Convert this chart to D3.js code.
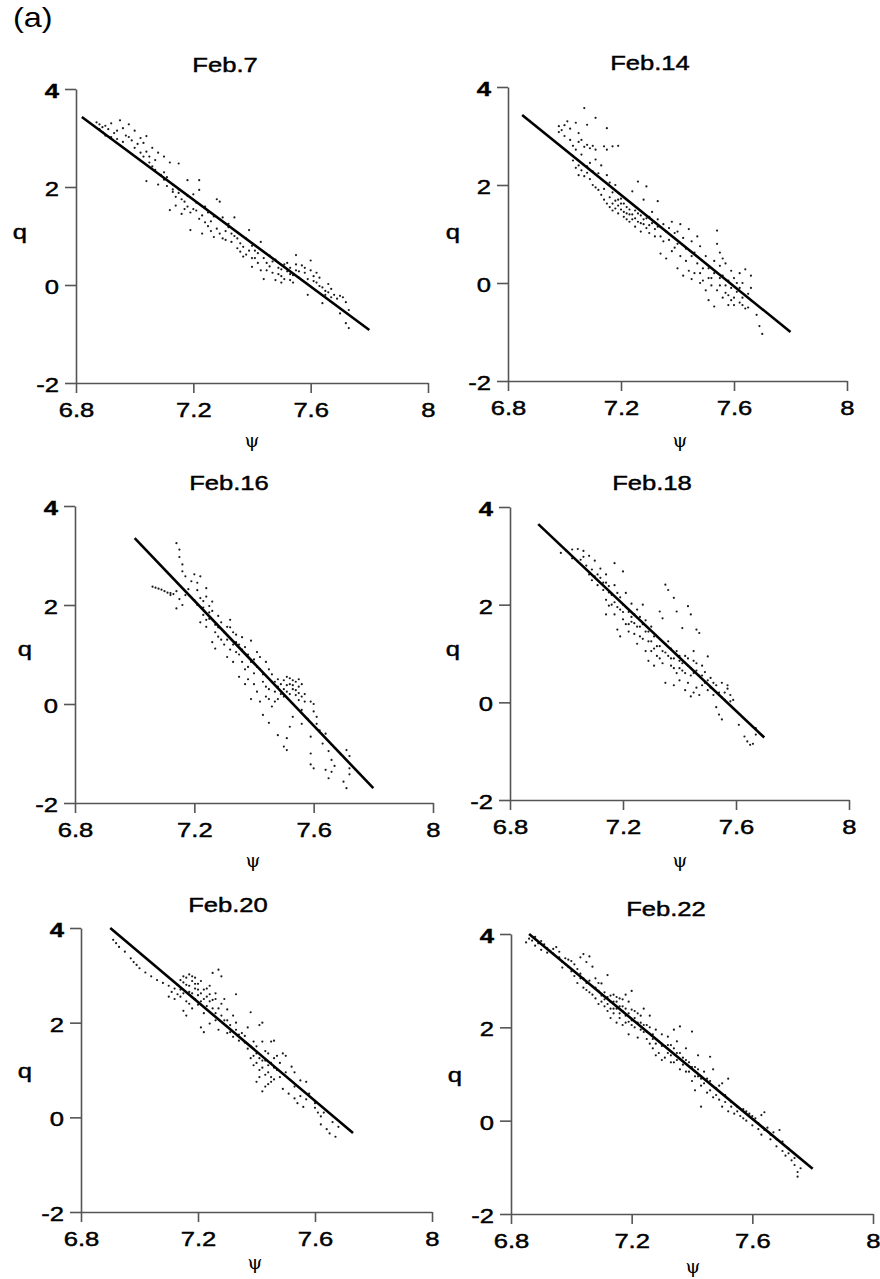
<!DOCTYPE html>
<html>
<head>
<meta charset="utf-8">
<script src="https://d3js.org/d3.v7.min.js"></script>
<title>q versus psi, Feb.7 - Feb.22</title>
<style>
  body { margin: 0; background: #fff; }
  svg text { font-family: "Liberation Sans", Arial, sans-serif; fill: #000; }
</style>
</head>
<body>
<div id="chart"></div>
<script type="text/javascript">

// tick labels
var psiTicks = [6.8, 7.2, 7.6, 8];
var qTicks = [-2, 0, 2, 4];

var panelTitles = ["Feb.7", "Feb.14", "Feb.16", "Feb.18", "Feb.20", "Feb.22"];

// fitted lines, [psi, q] at both ends
var feb7Fit  = [[6.82, 3.43], [7.80, -0.92]];
var feb14Fit = [[6.85, 3.43], [7.80, -1.00]];
var feb16Fit = [[7.00, 3.35], [7.80, -1.70]];
var feb18Fit = [[6.90, 3.65], [7.70, -0.72]];
var feb20Fit = [[6.90, 4.00], [7.73, -0.33]];
var feb22Fit = [[6.86, 4.00], [7.80, -1.03]];

var feb7Pts = [[6.87,3.32],[6.88,3.28],[6.89,3.22],[6.89,3.12],[6.90,3.05],[6.91,3.18],[6.92,3.30],[6.93,3.10],[6.94,2.98],[6.95,3.36],[6.96,3.20],[6.97,3.05],[6.98,3.28],[6.99,2.95],[7.00,3.15],[7.01,2.88],[7.02,3.00],[7.03,2.90],[7.04,3.04],[7.04,2.72],[7.05,2.62],[7.06,2.80],[7.07,2.55],[7.08,2.70],[7.04,2.12],[7.08,2.05],[7.10,2.62],[7.10,2.30],[7.11,2.20],[7.12,2.50],[7.13,2.05],[7.13,1.90],[7.14,1.80],[7.15,2.48],[7.15,1.95],[7.16,1.75],[7.16,1.45],[7.12,1.53],[7.17,1.70],[7.18,2.14],[7.18,1.60],[7.19,1.12],[7.20,1.85],[7.20,1.55],[7.21,1.68],[7.22,2.14],[7.22,1.94],[7.22,1.35],[7.23,1.05],[7.24,1.60],[7.25,1.48],[7.25,1.20],[7.26,1.30],[7.27,0.98],[7.28,1.75],[7.28,1.15],[7.29,1.70],[7.30,1.38],[7.30,0.95],[7.31,1.10],[7.32,1.25],[7.33,0.88],[7.34,1.38],[7.34,1.00],[7.35,0.75],[7.36,0.85],[7.37,0.58],[7.38,0.95],[7.39,1.12],[7.39,0.70],[7.40,0.37],[7.40,0.80],[7.41,0.55],[7.42,0.65],[7.43,0.88],[7.43,0.30],[7.44,0.12],[7.45,0.45],[7.46,0.60],[7.47,0.25],[7.48,0.10],[7.48,0.52],[7.49,0.35],[7.50,0.05],[7.50,0.18],[7.51,0.42],[7.52,0.28],[7.53,0.10],[7.53,0.35],[7.54,0.20],[7.55,0.61],[7.55,0.30],[7.56,0.15],[7.57,0.40],[7.58,0.25],[7.59,0.12],[7.59,-0.20],[7.60,0.50],[7.60,0.30],[7.61,0.18],[7.62,0.05],[7.63,0.15],[7.64,-0.05],[7.64,-0.37],[7.65,-0.12],[7.66,0.02],[7.67,-0.08],[7.68,-0.20],[7.69,-0.28],[7.70,-0.22],[7.71,-0.25],[7.72,-0.35],[7.70,-0.58],[7.73,-0.51],[7.72,-0.78],[7.73,-0.88],
  [6.88,3.18],[6.90,3.25],[6.92,3.02],[6.94,3.15],[6.96,2.92],[6.98,3.02],[7.00,2.80],[7.02,2.70],[7.03,2.62],[7.05,2.50],[7.06,2.42],[7.07,2.35],[7.09,2.25],[7.10,2.15],[7.11,2.02],[7.13,1.95],[7.14,1.62],[7.15,1.88],[7.17,1.55],[7.18,1.82],[7.19,1.48],[7.21,1.52],[7.23,1.42],[7.24,1.28],[7.26,1.10],[7.27,1.40],[7.29,1.05],[7.31,0.92],[7.32,1.18],[7.33,1.05],[7.35,0.95],[7.36,0.68],[7.37,0.78],[7.38,0.62],[7.40,0.55],[7.41,0.70],[7.42,0.45],[7.44,0.55],[7.45,0.30],[7.46,0.38],[7.47,0.48],[7.49,0.22],[7.50,0.32],[7.51,0.12],[7.52,0.45],[7.53,0.22],[7.54,0.05],[7.55,0.42],[7.56,0.28],[7.57,0.10],[7.58,0.35],[7.61,0.08],[7.62,0.25],[7.63,-0.02],[7.65,-0.20],[7.66,-0.15],[7.67,-0.25]];

var feb14Pts = [[6.98,3.20],[6.98,3.08],[6.99,3.12],[7.00,3.00],[7.00,3.22],[7.01,3.30],[7.02,2.92],[7.02,3.15],[7.03,2.80],[7.04,3.27],[7.04,2.72],[7.05,3.06],[7.05,2.88],[7.06,2.92],[7.07,3.57],[7.07,2.78],[7.08,3.23],[7.08,2.82],[7.09,2.75],[7.10,2.80],[7.11,3.37],[7.11,2.72],[7.14,2.79],[7.15,3.16],[7.15,2.72],[7.17,2.79],[7.19,2.80],[7.04,2.35],[7.05,2.20],[7.06,2.30],[7.07,2.18],[7.08,2.38],[7.09,2.45],[7.10,2.28],[7.11,2.52],[7.12,2.24],[7.13,2.40],[7.12,1.90],[7.14,1.92],[7.15,2.20],[7.16,2.05],[7.16,1.75],[7.17,1.85],[7.18,1.68],[7.18,2.00],[7.19,1.58],[7.20,1.72],[7.20,1.50],[7.21,1.62],[7.21,1.45],[7.22,1.55],[7.23,1.40],[7.24,1.87],[7.24,1.30],[7.25,1.48],[7.26,2.07],[7.26,1.25],[7.27,1.38],[7.28,1.70],[7.28,1.20],[7.29,1.97],[7.29,1.32],[7.30,1.18],[7.31,1.45],[7.32,1.10],[7.33,1.67],[7.33,1.30],[7.34,0.95],[7.34,0.60],[7.35,1.20],[7.36,1.05],[7.36,0.50],[7.37,0.88],[7.38,1.25],[7.38,0.65],[7.39,1.02],[7.40,0.80],[7.40,0.30],[7.41,1.20],[7.41,0.55],[7.42,0.92],[7.42,0.15],[7.43,0.70],[7.44,1.10],[7.44,0.25],[7.45,0.85],[7.45,0.08],[7.46,0.62],[7.47,0.95],[7.47,0.40],[7.48,0.20],[7.48,0.75],[7.49,0.05],[7.50,0.55],[7.50,-0.15],[7.51,0.30],[7.51,-0.35],[7.52,0.10],[7.53,-0.48],[7.53,0.45],[7.54,1.07],[7.54,0.80],[7.55,0.62],[7.55,0.35],[7.55,-0.05],[7.56,0.50],[7.56,0.15],[7.57,-0.20],[7.57,0.40],[7.58,0.05],[7.58,-0.45],[7.59,-0.10],[7.59,0.25],[7.60,-0.30],[7.60,0.10],[7.61,-0.18],[7.62,-0.40],[7.62,0.20],[7.63,0.00],[7.63,-0.30],[7.64,0.28],[7.64,-0.52],[7.65,-0.22],[7.66,-0.10],[7.66,0.15],[7.68,-0.65],[7.69,-0.88],[7.70,-1.04],
  [7.03,2.50],[7.05,2.40],[7.06,2.62],[7.08,2.25],[7.09,2.12],[7.10,2.00],[7.11,1.95],[7.13,1.80],[7.14,1.70],[7.15,1.62],[7.16,1.55],[7.17,1.62],[7.17,1.48],[7.18,1.52],[7.19,1.70],[7.19,1.42],[7.20,1.62],[7.21,1.35],[7.22,1.42],[7.22,1.30],[7.23,1.50],[7.23,1.25],[7.24,1.40],[7.25,1.32],[7.25,1.15],[7.26,1.42],[7.27,1.22],[7.27,1.05],[7.28,1.30],[7.29,1.12],[7.30,1.35],[7.30,1.02],[7.31,1.22],[7.32,0.95],[7.33,1.15],[7.35,0.85],[7.37,1.12],[7.39,0.72],[7.40,1.05],[7.43,0.45],[7.45,0.55],[7.46,0.20],[7.48,0.00],[7.49,0.30],[7.51,0.10],[7.52,-0.05],[7.53,0.20],[7.54,-0.15],[7.55,0.10],[7.56,-0.30],[7.57,-0.05],[7.58,-0.25],[7.59,-0.35],[7.60,-0.45],[7.61,0.00],[7.62,-0.10],[7.63,-0.45],[7.65,-0.50],[7.66,-0.35]];

var feb16Pts = [[7.06,2.37],[7.07,2.35],[7.08,2.33],[7.09,2.31],[7.10,2.28],[7.11,2.25],[7.12,2.24],[7.13,2.22],[7.12,2.20],[7.14,2.28],[7.14,3.25],[7.15,3.12],[7.15,2.97],[7.16,2.82],[7.16,2.68],[7.17,2.58],[7.14,1.93],[7.16,2.00],[7.15,2.12],[7.17,2.20],[7.18,2.32],[7.19,2.48],[7.20,2.62],[7.21,2.45],[7.22,2.58],[7.20,2.10],[7.21,2.00],[7.22,2.14],[7.23,2.08],[7.24,2.17],[7.24,2.34],[7.25,1.98],[7.22,1.65],[7.23,1.80],[7.24,1.56],[7.25,1.72],[7.26,2.07],[7.26,1.88],[7.27,1.60],[7.28,1.78],[7.26,1.25],[7.27,1.12],[7.28,1.36],[7.29,1.65],[7.30,1.20],[7.31,1.56],[7.31,0.95],[7.32,1.70],[7.32,1.10],[7.33,0.85],[7.33,1.45],[7.34,1.25],[7.35,1.00],[7.35,0.55],[7.36,1.35],[7.37,0.40],[7.37,1.15],[7.38,0.75],[7.39,1.28],[7.39,0.10],[7.40,0.62],[7.40,0.90],[7.41,1.05],[7.42,0.05],[7.42,0.70],[7.43,-0.22],[7.43,0.45],[7.44,0.85],[7.44,0.15],[7.45,-0.38],[7.45,0.30],[7.46,0.60],[7.47,0.05],[7.47,0.45],[7.48,-0.63],[7.48,0.35],[7.49,0.20],[7.50,0.48],[7.50,-0.86],[7.51,0.38],[7.51,-0.69],[7.51,-0.93],[7.52,0.52],[7.52,-0.46],[7.53,0.30],[7.53,-0.26],[7.54,0.45],[7.54,0.18],[7.55,0.35],[7.55,0.08],[7.56,-0.12],[7.56,-0.40],[7.57,0.20],[7.59,0.05],[7.60,-0.15],[7.61,-0.26],[7.59,-0.66],[7.59,-1.00],[7.59,-1.22],[7.60,-1.30],[7.62,-0.53],[7.64,-0.60],[7.64,-1.33],[7.65,-0.95],[7.65,-1.50],[7.66,-1.13],[7.66,-1.37],[7.70,-1.57],[7.71,-0.93],[7.71,-1.70],[7.72,-1.05],[7.72,-1.30],[7.72,-1.42],
  [7.21,2.30],[7.23,1.95],[7.24,1.70],[7.25,1.85],[7.27,1.45],[7.28,1.55],[7.29,1.30],[7.30,1.45],[7.31,1.30],[7.32,1.55],[7.33,1.20],[7.34,1.05],[7.34,1.40],[7.35,1.20],[7.36,0.85],[7.36,1.10],[7.37,0.70],[7.38,1.00],[7.38,0.50],[7.39,0.85],[7.40,0.40],[7.41,0.75],[7.41,0.25],[7.42,0.95],[7.43,0.60],[7.44,0.35],[7.45,0.70],[7.45,0.10],[7.46,0.45],[7.46,-0.05],[7.47,0.25],[7.48,0.50],[7.48,0.10],[7.49,0.40],[7.50,0.30],[7.50,0.15],[7.51,0.55],[7.51,0.25],[7.52,0.40],[7.52,0.20],[7.53,0.48],[7.53,0.38],[7.54,0.28],[7.55,0.50],[7.55,0.22],[7.56,0.40],[7.56,0.15],[7.57,0.05],[7.58,-0.30],[7.60,0.00],[7.61,-0.40],[7.63,-0.80],[7.67,-1.25]];

var feb18Pts = [[6.98,3.06],[7.00,3.10],[7.02,3.13],[7.04,3.14],[7.06,3.10],[7.08,3.00],[7.10,2.90],[7.12,2.74],[7.02,2.95],[7.04,2.88],[7.06,2.98],[7.08,2.62],[7.09,2.50],[7.10,2.58],[7.11,2.40],[7.12,2.55],[7.13,2.45],[7.14,2.62],[7.15,2.38],[7.17,2.85],[7.20,2.68],[7.14,2.10],[7.14,1.80],[7.15,1.98],[7.16,2.20],[7.17,1.80],[7.17,2.05],[7.18,1.49],[7.18,2.24],[7.19,1.35],[7.19,1.90],[7.20,1.70],[7.20,2.00],[7.21,2.24],[7.21,1.60],[7.22,1.85],[7.23,1.75],[7.23,2.02],[7.24,1.40],[7.24,1.62],[7.25,1.90],[7.25,1.20],[7.26,1.55],[7.27,2.00],[7.27,1.30],[7.28,1.68],[7.28,1.05],[7.29,1.45],[7.29,0.85],[7.30,1.25],[7.30,1.55],[7.31,1.10],[7.31,0.75],[7.32,1.35],[7.32,0.95],[7.33,1.86],[7.33,1.15],[7.34,1.72],[7.34,0.80],[7.35,2.41],[7.35,1.02],[7.35,0.40],[7.36,2.30],[7.36,1.25],[7.37,0.90],[7.38,2.14],[7.38,0.70],[7.38,0.35],[7.39,1.86],[7.39,1.05],[7.40,0.85],[7.40,0.45],[7.41,1.52],[7.41,0.65],[7.42,0.95],[7.42,0.25],[7.43,1.97],[7.43,0.75],[7.44,1.80],[7.44,0.55],[7.44,0.12],[7.45,0.85],[7.45,1.05],[7.46,1.49],[7.46,0.30],[7.46,0.65],[7.47,1.42],[7.47,0.15],[7.48,0.55],[7.48,0.75],[7.49,0.40],[7.50,0.94],[7.50,0.25],[7.51,0.50],[7.52,0.15],[7.53,0.35],[7.53,-0.10],[7.54,-0.25],[7.54,0.20],[7.55,-0.35],[7.55,0.40],[7.56,0.05],[7.57,0.28],[7.58,0.15],[7.59,0.05],[7.61,-0.46],[7.63,-0.70],[7.64,-0.80],[7.65,-0.87],[7.66,-0.85],[7.67,-0.66],[7.67,-0.53],
  [7.05,2.92],[7.07,2.80],[7.09,2.72],[7.11,2.62],[7.13,2.30],[7.14,2.45],[7.15,2.25],[7.16,2.00],[7.17,2.40],[7.18,1.95],[7.19,2.15],[7.20,1.85],[7.21,1.95],[7.22,1.60],[7.22,1.45],[7.23,1.65],[7.24,1.80],[7.25,1.55],[7.26,1.35],[7.26,1.75],[7.27,1.60],[7.28,1.45],[7.29,1.25],[7.30,1.05],[7.31,1.35],[7.32,1.15],[7.33,0.90],[7.34,1.05],[7.35,1.20],[7.36,0.95],[7.37,0.75],[7.37,1.10],[7.38,0.90],[7.39,0.60],[7.40,0.95],[7.40,0.70],[7.41,0.80],[7.42,0.60],[7.43,0.90],[7.43,0.40],[7.44,0.70],[7.45,0.60],[7.45,0.20],[7.46,0.80],[7.47,0.55],[7.48,0.35],[7.49,0.62],[7.50,0.45],[7.51,0.30],[7.52,0.40],[7.55,0.10],[7.56,0.20],[7.57,0.35],[7.58,0.02]];

var feb20Pts = [[6.91,3.75],[6.92,3.68],[6.93,3.60],[6.95,3.50],[6.97,3.36],[6.98,3.28],[6.99,3.22],[7.00,3.15],[7.02,3.06],[7.04,2.98],[7.06,2.90],[7.08,2.84],[7.10,2.78],[7.12,2.72],[7.10,2.55],[7.11,2.65],[7.12,2.50],[7.13,2.60],[7.14,2.70],[7.14,2.90],[7.15,2.98],[7.15,2.25],[7.16,2.80],[7.16,2.15],[7.17,3.02],[7.17,2.65],[7.18,2.88],[7.18,2.30],[7.19,2.72],[7.19,2.95],[7.20,2.58],[7.20,2.82],[7.21,2.45],[7.21,1.90],[7.22,2.70],[7.22,1.80],[7.23,2.55],[7.23,2.35],[7.24,2.78],[7.24,1.98],[7.25,2.48],[7.25,3.05],[7.26,2.62],[7.26,2.20],[7.27,3.12],[7.27,1.85],[7.28,2.40],[7.28,2.98],[7.29,2.05],[7.30,2.28],[7.30,1.78],[7.31,1.95],[7.32,2.15],[7.32,1.70],[7.33,2.60],[7.33,1.85],[7.34,1.62],[7.35,1.78],[7.36,1.58],[7.37,1.45],[7.37,1.90],[7.38,1.25],[7.38,2.22],[7.39,1.10],[7.39,1.60],[7.40,1.35],[7.40,0.75],[7.41,1.00],[7.41,1.95],[7.42,1.20],[7.42,0.55],[7.42,2.00],[7.43,0.90],[7.43,1.40],[7.44,1.10],[7.44,0.70],[7.45,0.85],[7.45,1.60],[7.46,1.25],[7.46,1.62],[7.47,1.00],[7.48,1.15],[7.49,1.35],[7.49,0.60],[7.50,0.95],[7.51,0.50],[7.52,1.07],[7.53,0.95],[7.53,0.40],[7.54,0.30],[7.55,0.78],[7.56,0.22],[7.57,0.75],[7.58,0.50],[7.60,0.20],[7.61,0.10],[7.62,0.02],[7.62,-0.15],[7.64,-0.25],[7.65,-0.34],[7.66,-0.10],[7.67,-0.41],[7.68,-0.20],
  [7.13,2.80],[7.14,2.55],[7.15,2.85],[7.15,2.62],[7.16,2.95],[7.16,2.45],[7.17,2.78],[7.17,2.40],[7.18,2.62],[7.18,2.98],[7.19,2.50],[7.19,2.82],[7.20,2.70],[7.20,2.38],[7.21,2.88],[7.21,2.62],[7.22,2.50],[7.22,2.20],[7.23,2.72],[7.24,2.45],[7.24,2.60],[7.25,2.30],[7.26,2.50],[7.26,2.05],[7.27,2.30],[7.28,2.15],[7.29,2.50],[7.30,2.05],[7.31,1.80],[7.33,2.00],[7.34,1.75],[7.36,1.72],[7.38,1.50],[7.39,1.30],[7.40,1.15],[7.40,1.50],[7.41,1.25],[7.41,0.85],[7.42,1.05],[7.42,1.60],[7.43,1.20],[7.43,0.65],[7.44,1.35],[7.44,0.95],[7.45,1.15],[7.45,0.75],[7.46,1.05],[7.46,0.80],[7.47,1.30],[7.48,0.85],[7.50,1.30],[7.53,0.65],[7.55,0.45],[7.57,0.38],[7.60,0.30],[7.63,0.10]];

var feb22Pts = [[6.85,3.82],[6.86,3.90],[6.87,3.86],[6.88,3.94],[6.89,3.80],[6.90,3.66],[6.91,3.78],[6.92,3.70],[6.93,3.64],[6.94,3.58],[6.95,3.72],[6.96,3.50],[6.97,3.40],[6.98,3.48],[6.99,3.30],[7.00,3.42],[7.00,3.20],[7.01,3.10],[7.02,3.25],[7.02,2.95],[7.03,3.50],[7.03,3.05],[7.04,3.57],[7.04,2.85],[7.05,3.40],[7.05,2.95],[7.06,3.52],[7.06,2.75],[7.07,3.30],[7.07,2.88],[7.08,2.62],[7.08,3.05],[7.09,2.78],[7.09,2.50],[7.10,2.68],[7.10,2.94],[7.11,2.45],[7.11,2.60],[7.12,3.12],[7.12,2.35],[7.13,2.55],[7.13,2.20],[7.14,2.70],[7.14,2.40],[7.15,2.10],[7.15,2.55],[7.16,2.30],[7.16,2.62],[7.17,2.05],[7.17,2.45],[7.18,2.25],[7.18,2.70],[7.19,2.12],[7.19,1.85],[7.20,2.38],[7.20,2.78],[7.21,2.00],[7.21,2.20],[7.22,1.78],[7.22,2.30],[7.23,2.10],[7.24,2.40],[7.24,1.90],[7.25,1.75],[7.25,2.05],[7.26,2.25],[7.27,1.85],[7.27,1.55],[7.28,1.95],[7.28,1.40],[7.29,1.70],[7.30,1.85],[7.30,1.30],[7.31,1.60],[7.32,1.45],[7.32,1.80],[7.33,1.62],[7.34,1.95],[7.34,1.25],[7.35,1.45],[7.35,1.70],[7.36,2.02],[7.36,1.10],[7.37,1.35],[7.38,1.55],[7.38,1.05],[7.39,1.25],[7.40,1.91],[7.40,0.85],[7.41,1.15],[7.41,0.65],[7.42,1.40],[7.42,0.95],[7.43,0.30],[7.43,0.75],[7.44,1.05],[7.45,0.60],[7.46,1.37],[7.46,0.85],[7.47,0.50],[7.47,1.10],[7.48,0.70],[7.49,0.45],[7.50,0.80],[7.50,0.30],[7.51,0.55],[7.52,0.20],[7.52,0.90],[7.53,0.40],[7.54,0.15],[7.55,0.30],[7.56,0.10],[7.57,0.25],[7.58,0.00],[7.59,0.15],[7.60,-0.10],[7.61,0.05],[7.62,-0.18],[7.63,0.12],[7.63,-0.30],[7.64,0.18],[7.65,-0.15],[7.66,-0.40],[7.67,-0.25],[7.68,-0.55],[7.69,-0.20],[7.70,-0.65],[7.71,-0.75],[7.72,-0.60],[7.73,-0.85],[7.74,-0.95],[7.75,-1.10],[7.75,-1.20],[7.76,-1.02],
  [6.88,3.75],[6.90,3.85],[6.92,3.60],[6.94,3.68],[6.96,3.62],[6.97,3.28],[6.99,3.45],[7.01,3.35],[7.03,3.15],[7.04,3.05],[7.05,2.80],[7.06,3.00],[7.07,2.70],[7.08,2.85],[7.09,2.95],[7.10,2.55],[7.11,2.75],[7.12,2.50],[7.12,2.65],[7.13,2.40],[7.13,2.68],[7.14,2.30],[7.14,2.55],[7.15,2.40],[7.15,2.65],[7.16,2.20],[7.16,2.45],[7.17,2.35],[7.17,2.60],[7.18,2.10],[7.18,2.40],[7.19,2.30],[7.19,2.55],[7.20,2.15],[7.20,2.05],[7.21,2.35],[7.22,2.10],[7.23,1.95],[7.23,2.25],[7.24,2.05],[7.25,1.90],[7.26,1.65],[7.26,2.00],[7.27,1.75],[7.28,1.65],[7.29,1.45],[7.30,1.60],[7.31,1.35],[7.32,1.62],[7.33,1.40],[7.33,1.25],[7.34,1.55],[7.35,1.30],[7.36,1.45],[7.37,1.20],[7.38,1.30],[7.39,1.05],[7.40,1.15],[7.41,0.95],[7.42,1.10],[7.43,0.90],[7.44,0.80],[7.45,0.90],[7.46,0.65],[7.48,0.55],[7.49,0.75],[7.51,0.40],[7.53,0.30],[7.55,0.20],[7.57,0.05],[7.58,0.20],[7.60,0.10],[7.62,-0.05],[7.64,-0.20],[7.66,-0.30],[7.68,-0.40],[7.70,-0.45],[7.72,-0.70],[7.74,-0.80]];

var allPts = [feb7Pts, feb14Pts, feb16Pts, feb18Pts, feb20Pts, feb22Pts];
var allFits = [feb7Fit, feb14Fit, feb16Fit, feb18Fit, feb20Fit, feb22Fit];

// where each panel sits on the page (pixel ranges of the axes) and its labels
var layout = [
  {x0: 76,  x1: 428, yTop: 89,  yBot: 383,  tx: 225, ty: 72,  qx: 20,  qy: 239,  px: 252, py: 447},
  {x0: 508, x1: 847, yTop: 87,  yBot: 381,  tx: 650, ty: 70,  qx: 453, qy: 239,  px: 680, py: 447},
  {x0: 75,  x1: 433, yTop: 506, yBot: 803,  tx: 229, ty: 490, qx: 25,  qy: 656,  px: 253, py: 867},
  {x0: 510, x1: 849, yTop: 507, yBot: 800,  tx: 652, ty: 490, qx: 453, qy: 656,  px: 680, py: 867},
  {x0: 81,  x1: 432, yTop: 928, yBot: 1212, tx: 228, ty: 912, qx: 25,  qy: 1078, px: 255, py: 1269},
  {x0: 511, x1: 873, yTop: 934, yBot: 1214, tx: 666, ty: 916, qx: 455, qy: 1082, px: 693, py: 1273}
];

var stretch = "scale(1.22,1)";   // the original lettering is drawn wide

var svg = d3.select("#chart").append("svg")
    .attr("width", 880)
    .attr("height", 1279);

svg.append("text")
    .attr("transform", "translate(13,27) scale(1.2,1)")
    .style("font-size", "27px")
    .text("(a)");

layout.forEach(function (L, i) {
  var x = d3.scaleLinear().domain([6.8, 8]).range([L.x0, L.x1]);
  var y = d3.scaleLinear().domain([-2, 4]).range([L.yBot, L.yTop]);
  var g = svg.append("g");

  // x axis
  var xa = g.append("g")
      .attr("transform", "translate(0," + L.yBot + ")")
      .call(d3.axisBottom(x).tickValues(psiTicks).tickFormat(function (d) { return String(d); })
        .tickSize(10).tickSizeOuter(0).tickPadding(9));

  // y axis
  var ya = g.append("g")
      .attr("transform", "translate(" + L.x0 + ",0)")
      .call(d3.axisLeft(y).tickValues(qTicks).tickFormat(function (d) { return String(d); })
        .tickSize(11).tickSizeOuter(0).tickPadding(3));

  [xa, ya].forEach(function (a) {
    a.select(".domain").attr("stroke", "#555").attr("stroke-width", 1.6);
    a.selectAll(".tick line").attr("stroke", "#555").attr("stroke-width", 1.6);
    a.selectAll(".tick text")
      .attr("fill", "#000")
      .attr("stroke", "#000")
      .attr("stroke-width", 0.45)
      .style("font-family", "'Liberation Sans', Arial, sans-serif")
      .style("font-size", "21px")
      .attr("transform", stretch);
  });
  ya.selectAll(".tick text").attr("dy", "0.4em")
    .style("font-weight", function (d) { return d === 4 ? "bold" : "normal"; });

  // points
  g.append("g").selectAll("circle")
    .data(allPts[i])
    .enter()
    .append("circle")
      .attr("cx", function (d) { return x(d[0]); })
      .attr("cy", function (d) { return y(d[1]); })
      .attr("r", 1.1)
      .attr("fill", "#1a1a1a");

  // fitted line
  g.append("path")
    .datum(allFits[i])
    .attr("d", d3.line().x(function (d) { return x(d[0]); }).y(function (d) { return y(d[1]); }))
    .attr("fill", "none")
    .attr("stroke", "#000")
    .attr("stroke-width", 2.6);

  // title and axis names
  g.append("text")
    .attr("transform", "translate(" + L.tx + "," + L.ty + ") " + stretch)
    .attr("text-anchor", "middle")
    .attr("stroke", "#000")
    .attr("stroke-width", 0.45)
    .style("font-size", "21px")
    .text(panelTitles[i]);

  g.append("text")
    .attr("transform", "translate(" + L.qx + "," + L.qy + ") " + stretch)
    .attr("text-anchor", "middle")
    .attr("stroke", "#000")
    .attr("stroke-width", 0.45)
    .style("font-size", "21px")
    .text("q");

  g.append("text")
    .attr("x", L.px)
    .attr("y", L.py)
    .attr("text-anchor", "middle")
    .style("fill", "#000")
    .style("font-family", "'DejaVu Serif', 'Liberation Serif', serif")
    .style("font-size", "19px")
    .text("\u03C8");
});

</script>
</body>
</html>
